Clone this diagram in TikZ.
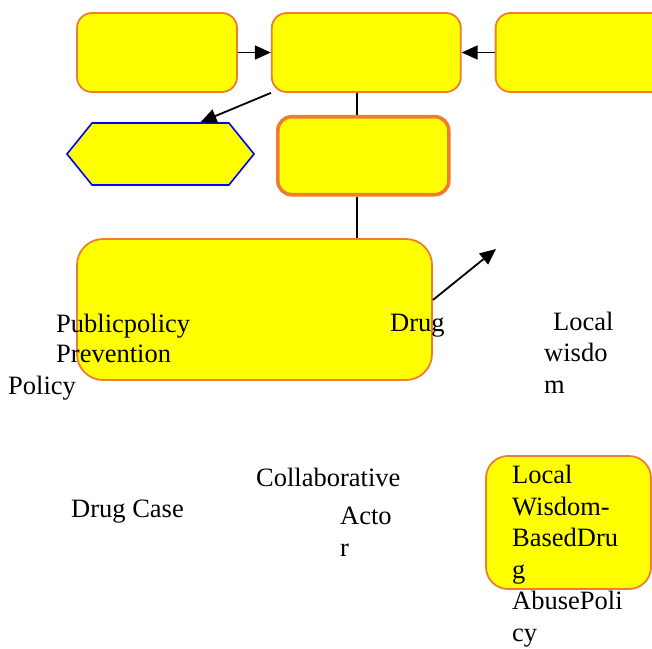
\documentclass[tikz,border=0pt]{standalone}
\usepackage{fontspec}
\setmainfont{Liberation Serif}
\usetikzlibrary{positioning,arrows.meta,shapes.symbols}

\definecolor{boxorange}{RGB}{237,125,49}
\definecolor{boxyellow}{RGB}{255,255,0}
\definecolor{hexblue}{RGB}{0,0,255}

\begin{document}
\begin{tikzpicture}[x=1pt,y=-1pt,>={Triangle[length=16pt,width=14pt]},
  box/.style={rectangle,rounded corners=15pt,fill=boxyellow,draw=boxorange,line width=1.8pt},
  hex/.style={signal,signal to=west and east,signal pointer angle=102,fill=boxyellow,draw=hexblue,line width=1.6pt},
  line/.style={line width=1.8pt},
  txt/.style={inner sep=0pt,anchor=base west,align=left,font=\fontsize{26.5}{31.5}\selectfont}]
   \clip (0,0) rectangle (652,648);
   \node[box,minimum width=160pt,minimum height=79pt]  (b_1)  at (157,52.5) {};
   \node[box,minimum width=189pt,minimum height=79pt]  (b_2)  [right=33pt of b_1] {};
   \node[box,minimum width=190pt,minimum height=79pt]  (b_3)  [right=33pt of b_2] {};
   \node[hex,minimum width=187pt,minimum height=62pt]  (hx)   at (160.5,154) {};
   \node[box,line width=3.6pt,rounded corners=14pt,minimum width=171pt,minimum height=78pt]
                                                       (b_4)  [below=22pt of b_2,xshift=-3pt] {};
   \node[box,rounded corners=26pt,minimum width=355pt,minimum height=141pt] (b_5) at (254.5,309.5) {};
   \node[box,rounded corners=22pt,minimum width=165pt,minimum height=133pt] (b_6) at (568.5,522.5) {};
   \coordinate (w_end) at (496,249);
   % texts
   \node[txt] (t_pp)   at (56,332)  {Publicpolicy};
   \node[txt] (t_prev) at (56,362)  {Prevention};
   \node[txt] (t_pol)  at (8,394)   {Policy};
   \node[txt] (t_drug) at (390,331) {Drug};
   \node[txt] (t_lw)   at (544,393) {\hspace*{9pt}Local\\wisdo\\m};
   \node[txt] (t_coll) at (256,486) {Collaborative};
   \node[txt] (t_case) at (71,517)  {Drug Case};
   \node[txt] (t_act)  at (340,556) {Acto\\r};
   \node[txt] (t_lwb)  at (512,641) {Local\\Wisdom-\\BasedDru\\g\\AbusePoli\\cy};
    \path[line,->]
    (b_1.east)              edge  (b_2.west)
    (b_3.west)              edge  (b_2.east)
    (b_2.south west)        edge  ([xshift=40pt]hx.north)
    ([yshift=9.5pt]b_5.east) edge (w_end);
    \path[line,-]
    ([xshift=-9pt]b_2.south) edge ([xshift=-9pt]b_2.south |- b_4.north)
    ([xshift=-9pt]b_2.south |- b_4.south) edge ([xshift=-9pt]b_2.south |- b_5.north);
\end{tikzpicture}
\end{document}
